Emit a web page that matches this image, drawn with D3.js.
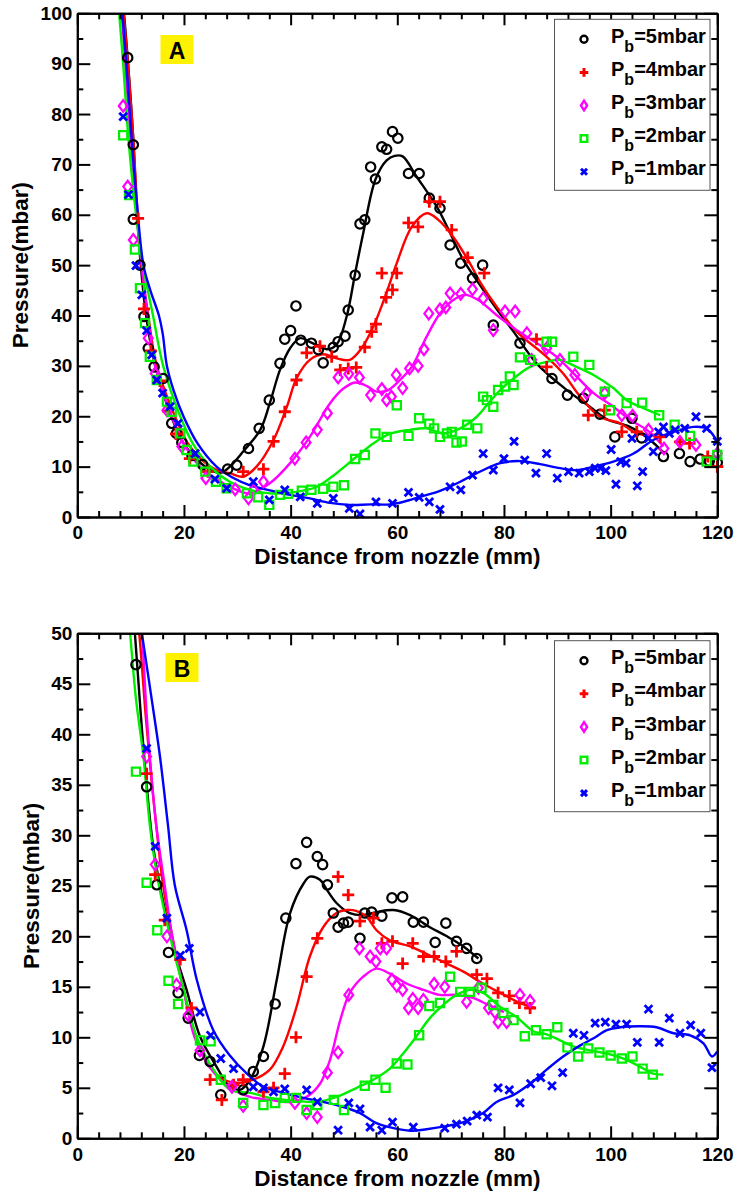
<!DOCTYPE html>
<html lang="en">
<head>
<meta charset="UTF-8" />
<title>Pressure vs distance from nozzle</title>
<style>
  body { margin: 0; background: #fff; }
  svg { display: block; font-family: "Liberation Sans", Arial, sans-serif; font-weight: bold; }
  .axis path, .axis line { stroke: #000; stroke-width: 2; }
  .axis text { font-family: "Liberation Sans", Arial, sans-serif; font-size: 19px; font-weight: bold; fill: #000; }
</style>
</head>
<body>
<svg id="chart" width="738" height="1196"></svg>
<script src="https://cdn.jsdelivr.net/npm/d3@7"></script>
<script>
// back pressures, legend order
const pressures = [5, 4, 3, 2, 1];
const xTicks = [0, 20, 40, 60, 80, 100, 120];
const yTicksA = [0, 10, 20, 30, 40, 50, 60, 70, 80, 90, 100];
const yTicksB = [0, 5, 10, 15, 20, 25, 30, 35, 40, 45, 50];

// ---- panel A : measured points [distance mm, pressure mbar]
const a5pts = [[9.45,91.2],[10.5,73.9],[10.5,59.1],[11.75,50],[12.5,39.8],[13.3,33.5],[14.4,29.8],[16.1,27.5],[17.7,18.6],[18.6,16.6],[19.6,14.8],[21.5,12.2],[23.5,10.4],[28.2,9.5],[29.9,10.3],[32.1,13.6],[34.1,17.6],[36,23.2],[38,30.5],[38.9,35.3],[40,37],[41,41.9],[41.9,35.1],[43.9,34.5],[45.2,33.2],[46.1,30.6],[48,33.7],[48.9,34.8],[50.2,35.9],[50.8,41.1],[52.1,48],[53,58.2],[53.9,59],[55,69.5],[55.9,67.1],[57.1,73.5],[58,73],[59.1,76.5],[60.1,75.2],[62.1,68.2],[64.1,68.2],[66,63.3],[68,61.3],[69.9,54],[71.9,50.4],[74.1,47.4],[76,50],[78,38.1],[83,34.5],[89,27.5],[91.9,24.2],[94.9,23.6],[98,20.4],[100.8,15.9],[104,19.6],[105.8,15.7],[109.9,12],[112.9,12.6],[114.9,11],[116.8,11.5],[118.5,11.1],[120,10.8]];
const a4pts = [[11.4,59.3],[12.5,41.3],[13.8,33],[15.5,27],[17,21],[18.5,16.5],[21.1,11.6],[24.5,9],[31.1,9],[34.9,9.5],[36.8,15],[38.9,20.9],[41.1,27.2],[43,32.6],[45.5,33.9],[47.7,31.8],[49.3,29.2],[50.8,29.5],[52.3,29.7],[53.9,33.7],[55.2,36.8],[56,38.3],[57.9,43.6],[59.1,45.1],[57.1,48.4],[59.9,48.4],[62.1,58.4],[63.9,57.6],[66,62.6],[68,62.6],[70.2,57],[73.2,51.5],[76.3,48.4],[86.1,35.3],[88,29.8],[95.8,20.2],[98.9,21.2],[102.1,16.9],[104.9,16.9],[109.3,15.9],[113,14.9],[114.8,14.6],[118.2,12],[120,10]];
const a3pts = [[8.6,81.6],[9.45,65.6],[10.5,55],[13.3,35.5],[14.6,28.5],[16.8,21.2],[19.6,14],[24.1,7.7],[29.6,5.5],[32.1,3.7],[33,5.4],[34.9,7],[40.8,11.6],[42.9,14.8],[45,17.3],[46.9,20.6],[48.9,27.7],[50.9,28.4],[52.9,27.7],[55,24.2],[57.1,25.4],[58,23.2],[58.9,23.9],[59.8,28.2],[61,25.6],[62.3,29.5],[63.9,30],[65,33.3],[65.9,40.4],[68,41.2],[69.1,41.6],[69.9,44.4],[71.9,44.3],[74.1,45.2],[76.1,43.4],[78,37.1],[80.2,40.8],[82.1,40.8],[84.3,36.5],[85.2,31.2],[88,33.5],[90.5,31.2],[93.3,28.2],[95.5,24.6],[98.9,24.6],[102.1,20.2],[104.1,20.1],[107.1,17.3],[110,13.6],[113,14.9],[116,14.3],[120,12.6]];
const a2pts = [[8.6,75.8],[9.7,63.9],[10.8,53.1],[11.75,45.4],[12.7,38.5],[13.6,31.8],[14.9,27.2],[16.8,22.9],[17.7,20.9],[19.3,16.6],[20.5,13.3],[21.75,11],[24,9],[26,7],[28,5.7],[31.8,4.7],[33.9,3.9],[36,2.4],[38,4.4],[39.5,4.6],[42.1,5.2],[43.9,5.4],[46.1,5.6],[48,6],[50,6.3],[52.1,11.5],[53.9,12.3],[55.9,16.6],[58,15.9],[59.9,22.2],[62.1,16.1],[64.1,19.6],[66,18.5],[66.9,17.6],[68,15.9],[69.3,16.6],[70.2,16.9],[71.1,14.8],[72.1,15],[73.1,18.3],[75,17.6],[76.1,23.9],[76.8,23.2],[78,21.9],[78.9,25.2],[80.2,25.9],[81.1,27.9],[81.8,26.2],[83,31.7],[84.9,31.2],[88,34.8],[89,34.8],[93,31.8],[96,30.2],[98.9,24.9],[99.9,21.2],[103,22.6],[105.9,22.7],[109.1,20.2],[112,18.3],[114.9,16.1],[118,11],[120,12.3]];
const a1pts = [[8.6,79.5],[9.6,64],[11,49.9],[12.1,44.1],[13,37],[13.95,32.2],[14.9,27.2],[16,24.6],[17.4,21.9],[18.9,18.6],[22.1,12.6],[25.8,7.5],[28,5.7],[33,7],[36,3.4],[38.9,5.4],[41.8,4],[45,2.7],[48,3.7],[51,1.7],[53,0.6],[56,3],[59.1,2.7],[62.1,4.9],[64.1,3.9],[66,3],[68,1.5],[69.9,6],[71.9,5.4],[74.1,8.3],[76.1,12.6],[78,9.3],[80,11.6],[81.9,15],[83.9,11.3],[86,8.7],[88,12.6],[90,7.7],[92.1,9],[94.1,8.7],[96,9],[97.1,9.7],[98.1,9.7],[99.1,9.2],[100.1,13.4],[101,6.5],[101.9,11],[102.9,10.7],[104,15.6],[105,6.2],[106,9],[107.1,15.6],[108,13],[109,16.9],[109.9,17.9],[111,16.6],[112.1,17.3],[113.9,17.6],[116,19.9],[118,17.6],[120,15]];

// ---- panel A : fitted curves
const a5fit = [[8.6,102],[9.45,91],[10.5,75],[11.2,60],[11.9,50],[12.9,40],[14.6,30],[17.6,20],[20,14.5],[24,10],[27,8.8],[28.6,10],[31.1,13],[34.3,17.3],[36.1,22.6],[38,29.2],[39.9,33.5],[41.8,35.5],[43.9,34.6],[46.8,33.3],[48.6,34.2],[50.5,39.8],[52.1,48.4],[53.6,56.3],[55.9,67],[58,70.8],[59.5,71.7],[61,71.6],[63.6,67.6],[67.4,61.6],[69.9,56.4],[72.4,51],[74.9,47],[78.5,41.5],[81.8,36.8],[86.1,30.5],[91.8,25.2],[96.1,21.9],[99.3,19.4],[103.6,17.9],[107.4,15.3],[109.9,12.8]];
const a4fit = [[8.5,102],[9.5,90],[10.5,75],[11.3,60],[12,50],[13.3,40],[14.9,30],[18.3,20],[20.8,14.5],[24.3,10.5],[26.5,9.2],[28.6,8.7],[31.1,8],[33.6,10],[36.8,15.3],[39.3,21.9],[41.1,27.5],[43.6,31.2],[46.1,32.3],[48.6,31.5],[51.1,31.2],[53.3,33.5],[55.5,37.8],[57.7,43.7],[59.9,50.4],[62.7,57.6],[65.5,60.3],[67.7,59],[70.5,55.6],[73.6,50.4],[75.5,46.7],[78.6,41.8],[82.4,36.8],[88,31.8],[91.1,28.5],[94.3,23.9],[98,19.9],[101.8,18.6],[104.9,16.6],[108,16.3],[109.6,16.6]];
const a3fit = [[8.2,102],[9,90],[10,75],[11,62],[12.1,50],[13.2,40],[14.6,30],[17.7,20],[20,14.5],[23,10],[26,7.6],[28.6,6],[32.4,4.7],[36.1,6.7],[39.9,10.7],[43.6,15.9],[47.4,22.6],[49.9,25.5],[52.1,26.7],[54.3,26],[56.1,24.9],[58.3,25.2],[60.5,27.2],[62.7,29.8],[65.5,35.8],[68,40.4],[70.5,43.1],[72.7,44.1],[75.3,43],[78.6,40.1],[82.4,37.1],[86.8,34.1],[89.9,31.8],[93.6,27.9],[96.8,24.6],[100.5,21.9],[103.6,19.3],[106.8,17.3],[109.9,14]];
const a2fit = [[7.7,102],[8.6,90],[9.6,75],[10.8,62],[12.3,50],[14.2,40],[16.1,30],[19.3,20],[21.7,14.5],[24.9,10],[28.6,7],[32.4,5.4],[36.1,4.7],[41.1,5],[44.9,6],[48.6,8.7],[52.4,12],[55.5,14.6],[58.6,16.5],[62.4,17.3],[65.5,17.6],[68.6,16.6],[71.8,17.6],[74.9,19.9],[77.1,22.6],[79.3,25.2],[81.8,27.5],[84.9,29.8],[88,30.8],[90.5,31.2],[93.6,29.8],[96.8,28.2],[100.5,25.6],[103,23.2],[105.5,21.9],[109.3,20.2]];
const a1fit = [[8.3,102],[9.2,90],[10.2,75],[11.2,62],[12.4,50],[13.7,45],[15.3,40],[16,36.5],[16.8,30],[18.1,25],[19.9,20],[22.6,14.5],[26.1,10],[29,7.9],[32.4,6.3],[36.1,5.3],[39.9,4.4],[43.6,3.7],[47.4,2.8],[51.1,2.4],[54.9,2.5],[58.6,2.5],[61.1,3],[64.3,4],[68,5.2],[71.8,7],[74.9,8.7],[79.3,10.7],[83,11.1],[86.8,10.5],[90.5,9.7],[93.6,9.3],[96.8,10],[100.5,11],[104.3,12.6],[108,15.3],[111.8,16.9],[115.5,17.9],[118,17.6],[120,15]];

// ---- panel B : measured points
const b5pts = [[11,46.9],[13,34.8],[14.9,25.1],[17.1,18.4],[18.9,14.4],[20.8,11.9],[22.9,8.2],[24.9,7.6],[26.9,4.3],[31.1,4.8],[33,6.6],[34.9,8.1],[37.1,13.3],[39.1,21.8],[41,27.2],[43,29.3],[45,27.9],[46,27.1],[46.9,25.1],[48,22.3],[48.9,20.9],[49.9,21.3],[50.8,21.4],[53,19.8],[53.9,22.3],[55.2,22.4],[57.1,22],[59,23.8],[61,23.9],[63,21.4],[64.9,21.4],[67.1,19.4],[69.1,21.3],[71.1,19.5],[73,18.8],[74.9,17.8]];
const b4pts = [[13,36.1],[14.6,26.1],[16.4,21.6],[19.3,17.7],[21.4,12.9],[24.9,5.8],[27.1,3.8],[29.3,5.3],[31.1,5.8],[34.9,4.6],[36.8,5],[38.9,6.4],[41,10],[43,16],[45,19.8],[48.9,25.9],[50.8,24.1],[53,21.5],[55.5,21.8],[57.1,19.3],[59.1,19.5],[61,17.3],[62.9,19.3],[64.9,18],[66.9,18],[69.1,17.5],[71.1,18.5],[74.9,16.2],[76.8,15.8],[78.9,14.4],[81,14.1],[82.9,13.4],[84.9,12.9]];
const b3pts = [[13,37.8],[14.6,27.1],[16.8,20],[18.6,15.2],[20.8,12.2],[23,8.7],[29,5.1],[31.1,3.2],[40.8,3.5],[43,2.5],[45,2.1],[46.9,6.5],[48.9,8.5],[50.9,14.2],[52.9,18.8],[54.9,18],[56,17.5],[56.8,18.8],[58,18.8],[59,15.7],[59.9,15.1],[61,14.7],[62.9,13.8],[62.1,12.9],[63.9,12.9],[64.9,13.7],[66.9,15.3],[68.9,15],[73,13.5],[75.2,14.9],[77.1,12.9],[78.3,12.5],[78.9,11.5],[80.5,11.5],[83,14.2],[84.9,13.6]];
const b2pts = [[11,36.3],[13,25.3],[15,20.6],[17.1,15.6],[18.9,13.3],[23,9.7],[25,9.6],[26.9,5.8],[31.1,3.5],[34.9,3.3],[37.1,3.5],[38.9,4],[41,4],[43,2.8],[45,3.3],[48.1,3.8],[50,2.8],[53.9,5.2],[55.9,5.8],[57.8,5],[59.9,7.4],[61.9,7.3],[64.1,10.2],[66,13.1],[68,13.4],[69.9,16],[71.8,14.5],[73.6,14.5],[75.8,14.9],[78,13.2],[79.9,12.4],[81.8,11.7],[83.9,10.1],[86,10.7],[88,10.3],[90,11],[91.9,9],[93.9,8.1],[95.8,8.9],[97.9,8.5],[100,8.2],[102.1,7.9],[104.1,8.1],[106,6.9],[107.9,6.3]];
const b1pts = [[13,38.6],[14.6,28.9],[16.8,21.8],[19.3,18.1],[21,18.8],[23,12.5],[25,10.2],[26.9,7.9],[29.3,6.9],[33,5.1],[34.9,5],[36.8,4.6],[38.9,4.9],[43,4.8],[45,3.6],[48.9,0.8],[50.9,3.5],[53,2.9],[54.9,1.1],[57.1,0.8],[59.1,1.6],[63,1.1],[68.9,1],[71.1,1.4],[73.1,1.7],[74.9,2.3],[76.9,2.1],[78.9,5],[81,4.8],[83,3.5],[85,5.4],[86.9,6],[89,5.2],[91,6.5],[93,10.4],[95,10.2],[97.1,11.4],[99,11.5],[101,11.3],[103,11.3],[105,9.5],[107.1,12.8],[109.1,9.5],[111,11.9],[113,10.4],[115,11.2],[116.9,10.4],[119,7]];

// ---- panel B : fitted curves
const b5fit = [[10.6,51],[10.8,50],[11.9,42],[13,35],[14.2,29],[15.5,25],[18,19],[20.5,14.7],[23,10.1],[26.1,7.1],[28.6,5.1],[30.5,4.8],[32.4,5.8],[34.9,9.1],[37.4,15.7],[39.9,22.3],[42.4,25.2],[43.6,25.9],[45.5,25.6],[46.8,24.6],[48.6,23.3],[51.1,22.3],[53.6,22.1],[56.1,22.4],[59.3,22.6],[62.4,22.1],[66.1,20.9],[69.3,20],[72.4,19],[75.2,17.8]];
const b4fit = [[11.3,51],[11.6,50],[12.8,42],[14,35],[15,30],[16.1,25],[17.8,20],[19.8,15],[22.3,10],[24.9,7],[27.5,5.8],[30.5,5.5],[33,5.8],[36.1,6.8],[38.6,9.1],[41.1,13],[43.6,18],[46.1,20.9],[48.6,22.3],[50.5,22.6],[52.4,22.5],[54.3,21.9],[56.1,20.6],[58.6,19.6],[62.4,19],[66.1,18.1],[69.3,17.3],[72.4,16.5],[76.1,15.3],[79.3,14.4],[83,13.4],[85.8,12.9]];
const b3fit = [[11.8,51],[12.1,50],[13,42],[13.6,37.8],[14.8,31],[16.4,25],[17.8,20],[19.8,15],[22,10],[24.9,7],[28.6,5],[32.4,4.1],[36.1,3.8],[39.9,3.6],[43,4.1],[45.5,5.4],[47.4,7.8],[49.3,11.7],[51.1,14.4],[53.6,16],[56.1,16.8],[58.6,16.3],[61.8,15.3],[64.9,14.7],[68,14.2],[71.1,14.2],[74.2,13.9],[77.1,13.2],[80,12.5]];
const b2fit = [[9.7,51],[9.9,50],[11,43.5],[12.4,37.8],[13.6,31],[14.9,26.2],[17.4,20],[19.8,15],[22.4,10],[25.3,7],[28.6,4.8],[32.4,4.5],[36.1,4],[41.1,3.7],[44.9,3.6],[48.6,4.1],[52.4,5],[55.5,5.8],[58.6,6.9],[61.1,8.4],[63.6,10.1],[66.1,11.9],[68.6,13.2],[71.1,14.2],[73.6,14.7],[76.1,14.4],[79.3,13],[82.4,12],[85.5,10.6],[88,10.3],[90.5,9.7],[93,9.1],[96.1,8.7],[99.3,8.4],[102.4,7.9],[105.5,7.1],[108,6.4],[109.9,6.3]];
const b1fit = [[11.8,51],[12.1,50],[13.8,44],[15.5,37.8],[17,31],[18.3,25],[20.5,20.6],[22.4,15.7],[25.5,10.7],[28.6,8.2],[31.8,6.4],[34.9,5.1],[38.6,4.5],[42.4,4],[46.1,3.6],[49.9,3.1],[53,2.5],[56.1,1.5],[59.3,1],[62.4,0.75],[65.5,0.9],[68.6,1.15],[72.4,1.6],[76.1,2.5],[78.6,3.6],[81.8,4.3],[84.9,5.4],[88,6.8],[91.1,8.1],[94.3,9.2],[96.8,9.9],[99.3,10.7],[101.8,11],[105.5,11.1],[108.6,11],[111.8,10.4],[114.9,10.2],[117.4,9.4],[119,8.1],[120,8.6]];

// ---- styling
const colors = ["#000000", "#ff0000", "#ff00ff", "#00ee00", "#0000ff"];

function circlePath(r) { return `M${r},0A${r},${r} 0 1,1 ${-r},0A${r},${r} 0 1,1 ${r},0Z`; }
const markers = [
  circlePath(4.7),
  "M-6,0H6M0,-6V6",
  "M0,-5.8L4.4,0L0,5.8L-4.4,0Z",
  "M-4.1,-4.1H4.1V4.1H-4.1Z",
  "M-3.9,-3.9L3.9,3.9M3.9,-3.9L-3.9,3.9"
];
const legendMarkers = [
  circlePath(3.5),
  "M-4.3,0H4.3M0,-4.3V4.3",
  "M0,-4.8L3.1,0L0,4.8L-3.1,0Z",
  "M-3.3,-3.3H3.3V3.3H-3.3Z",
  "M-3,-3L3,3M3,-3L-3,3"
];
const markerWidth = [2.2, 2.8, 2.2, 2.2, 2.8];

const svg = d3.select("#chart");
const left = 77.3, right = 717.3;

function drawPanel(p) {
  const x = d3.scaleLinear().domain([0, 120]).range([left, right]);
  const y = d3.scaleLinear().domain([0, p.yMax]).range([p.bottom, p.top]);
  const g = svg.append("g");

  const clipId = "clip" + p.tag;
  g.append("clipPath").attr("id", clipId)
    .append("rect")
    .attr("x", left).attr("y", p.top)
    .attr("width", right - left).attr("height", p.bottom - p.top);

  const line = d3.line()
    .x(d => x(d[0]))
    .y(d => y(d[1]))
    .curve(d3.curveCatmullRom.alpha(0.5));

  // fitted lines
  p.fits.forEach((f, i) => {
    g.append("path")
      .datum(f)
      .attr("d", line)
      .attr("fill", "none")
      .attr("stroke", colors[i])
      .attr("stroke-width", 2.4)
      .attr("clip-path", `url(#${clipId})`);
  });

  // measured points
  p.pts.forEach((pts, i) => {
    g.append("g").selectAll("path")
      .data(pts)
      .join("path")
      .attr("transform", d => `translate(${x(d[0])},${y(d[1])})`)
      .attr("d", markers[i])
      .attr("fill", "none")
      .attr("stroke", colors[i])
      .attr("stroke-width", markerWidth[i]);
  });

  // axes, ticks inward on all four sides
  const xMinor = d3.range(0, 121, 4).filter(v => v % 20 !== 0);
  const yMinor = p.yTicks.slice(1).map(v => v - p.yStep / 2);

  function axis(gen, tf) {
    g.append("g").attr("class", "axis").attr("transform", tf).call(gen);
  }
  axis(d3.axisBottom(x).tickValues(xTicks).tickSize(-12).tickSizeOuter(0).tickPadding(9),
       `translate(0,${p.bottom})`);
  axis(d3.axisBottom(x).tickValues(xMinor).tickSize(-6).tickSizeOuter(0).tickFormat(""),
       `translate(0,${p.bottom})`);
  axis(d3.axisTop(x).tickValues(xTicks).tickSize(-12).tickSizeOuter(0).tickFormat(""),
       `translate(0,${p.top})`);
  axis(d3.axisTop(x).tickValues(xMinor).tickSize(-6).tickSizeOuter(0).tickFormat(""),
       `translate(0,${p.top})`);
  axis(d3.axisLeft(y).tickValues(p.yTicks).tickSize(-13).tickSizeOuter(0).tickPadding(5),
       `translate(${left},0)`);
  axis(d3.axisLeft(y).tickValues(yMinor).tickSize(-6).tickSizeOuter(0).tickFormat(""),
       `translate(${left},0)`);
  axis(d3.axisRight(y).tickValues(p.yTicks).tickSize(-13).tickSizeOuter(0).tickFormat(""),
       `translate(${right},0)`);
  axis(d3.axisRight(y).tickValues(yMinor).tickSize(-6).tickSizeOuter(0).tickFormat(""),
       `translate(${right},0)`);

  // titles
  g.append("text")
    .attr("x", (left + right) / 2).attr("y", p.xTitleY)
    .attr("text-anchor", "middle")
    .attr("font-size", 22.5)
    .text("Distance from nozzle (mm)");
  g.append("text")
    .attr("transform", `translate(${p.yTitleX},${(p.top + p.bottom) / 2}) rotate(-90)`)
    .attr("text-anchor", "middle")
    .attr("font-size", 22.5)
    .text("Pressure(mbar)");

  // panel letter
  g.append("rect")
    .attr("x", p.tagX).attr("y", p.tagY)
    .attr("width", 33).attr("height", 29)
    .attr("fill", "#fff200");
  g.append("text")
    .attr("x", p.tagX + 16.5).attr("y", p.tagY + 23.5)
    .attr("text-anchor", "middle")
    .attr("font-size", 23)
    .text(p.tag);

  // legend
  const lg = g.append("g");
  lg.append("rect")
    .attr("x", 554.5).attr("y", p.legTop)
    .attr("width", 155.5).attr("height", 171)
    .attr("fill", "#fff")
    .attr("stroke", "#555")
    .attr("stroke-width", 1);
  pressures.forEach((v, i) => {
    const cy = p.legTop + 20 + i * 33.1;
    lg.append("path")
      .attr("transform", `translate(584,${cy})`)
      .attr("d", legendMarkers[i])
      .attr("fill", "none")
      .attr("stroke", colors[i])
      .attr("stroke-width", markerWidth[i] + 0.2);
    const t = lg.append("text")
      .attr("x", 611).attr("y", cy + 3.6)
      .attr("font-size", 20);
    t.append("tspan").text("P");
    t.append("tspan").attr("font-size", 16).attr("dy", 9).text("b");
    t.append("tspan").attr("dy", -9).text(`=${v}mbar`);
  });
}

drawPanel({
  tag: "A", top: 13.3, bottom: 517, yMax: 100, yStep: 10, yTicks: yTicksA,
  pts: [a5pts, a4pts, a3pts, a2pts, a1pts],
  fits: [a5fit, a4fit, a3fit, a2fit, a1fit],
  xTitleY: 564, yTitleX: 28, tagX: 160.5, tagY: 35, legTop: 19.3
});
drawPanel({
  tag: "B", top: 633.3, bottom: 1138.3, yMax: 50, yStep: 5, yTicks: yTicksB,
  pts: [b5pts, b4pts, b3pts, b2pts, b1pts],
  fits: [b5fit, b4fit, b3fit, b2fit, b1fit],
  xTitleY: 1186, yTitleX: 39, tagX: 165.5, tagY: 653, legTop: 640.7
});
</script>
</body>
</html>
